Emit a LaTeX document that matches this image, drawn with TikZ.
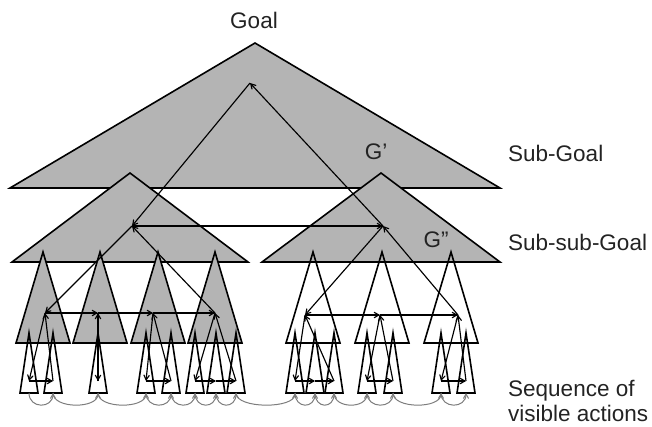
\documentclass[tikz,border=0pt]{standalone}
\usepackage{fontspec}
\setmainfont{Liberation Sans}
\usepackage{xcolor}
\usetikzlibrary{arrows,positioning}

\definecolor{tgray}{RGB}{180,180,180}
\definecolor{seqgray}{RGB}{125,125,125}
\definecolor{txtgray}{RGB}{35,35,35}

\tikzset{
    tri/.style={draw, line width=1.6pt, line join=miter, fill=tgray},
    openTri/.style={draw, line width=1.6pt, line join=miter},
    flow/.style={-angle 60, line width=1.15pt},
    seqarc/.style={-angle 60, line width=1pt, seqgray},
    lbl/.style={inner sep=0pt, text=txtgray, font=\fontsize{22.5}{25}\selectfont}
}

\begin{document}
\begin{tikzpicture}[x=1pt, y=-1pt]
    \useasboundingbox (0,0) rectangle (652,426);

    % goal and sub-goals
    \draw[tri] (10,188) -- (255,43) -- (500,188) -- cycle;
    \draw[tri] (12,262) -- (130,173) -- (248,262) -- cycle;
    \draw[tri] (262,262) -- (381,173) -- (500,262) -- cycle;

    % sub-sub-goals
    \foreach \x in {43,100,158,215}
        \draw[tri] (\x-27,343) -- (\x,252) -- (\x+27,343) -- cycle;
    \foreach \x in {313,382,451}
        \draw[openTri] (\x-27,343) -- (\x,252) -- (\x+27,343) -- cycle;

    % visible actions
    \foreach \n/\x in {a1/29, a2/53, b1/98, c1/146, c2/171, d1/195, d2/216, d3/236,
                       e1/295, e2/315, e3/334, f1/367, f2/393, g1/441, g2/466} {
        \draw[openTri] (\x-9,393) -- (\x,333) -- (\x+9,393) -- cycle;
        \coordinate (\n) at (\x,381);
        \coordinate (\n b) at (\x,393);
    }

    \coordinate (top) at (250,83);
    \coordinate (subA) at (132,226);
    \coordinate (subB) at (383,226);
    \coordinate (L1) at (45,313);
    \coordinate (L2) at (98,313);
    \coordinate (L3) at (153,313);
    \coordinate (L4) at (215,313);
    \coordinate (R1) at (305,315);
    \coordinate (R2) at (380,315);
    \coordinate (R3) at (458,315);

    % trace through the hierarchy
    \draw[flow] (top) -- (subA);
    \draw[flow] (subA) -- (subB);
    \draw[flow] (subB) -- (top);

    \draw[flow] (subA) -- (L1);
    \draw[flow] (L1) -- (L2);
    \draw[flow] (L2) -- (L3);
    \draw[flow] (L3) -- (L4);
    \draw[flow] (L4) -- (subA);

    \draw[flow] (subB) -- (R1);
    \draw[flow] (R1) -- (R2);
    \draw[flow] (R2) -- (R3);
    \draw[flow] (R3) -- (subB);

    \draw[flow] (L1) -- (a1);
    \draw[flow] (a1) -- (a2);
    \draw[flow] (a2) -- (L1);
    \draw[flow] (L2) -- (b1);
    \draw[flow] (b1) -- (L2);
    \draw[flow] (L3) -- (c1);
    \draw[flow] (c1) -- (c2);
    \draw[flow] (c2) -- (L3);
    \draw[flow] (L4) -- (d1);
    \draw[flow] (d1) -- (d2);
    \draw[flow] (d2) -- (d3);
    \draw[flow] (d3) -- (L4);

    \draw[flow] (R1) -- (e1);
    \draw[flow] (e1) -- (e2);
    \draw[flow] (e2) -- (e3);
    \draw[flow] (e3) -- (R1);
    \draw[flow] (R2) -- (f1);
    \draw[flow] (f1) -- (f2);
    \draw[flow] (f2) -- (R2);
    \draw[flow] (R3) -- (g1);
    \draw[flow] (g1) -- (g2);
    \draw[flow] (g2) -- (R3);

    % sequence of visible actions
    \foreach \p/\q in {a1/a2, a2/b1, b1/c1, c1/c2, c2/d1, d1/d2, d2/d3, d3/e1,
                       e1/e2, e2/e3, e3/f1, f1/f2, f2/g1, g1/g2}
        \draw[seqarc] (\p b) .. controls +(0,16) and +(0,16) .. (\q b);

    % labels
    \node[lbl] (goal) at (254,20) {Goal};
    \node[lbl] (gOne) at (376,152) {G’};
    \node[lbl] (gTwo) at (436,240) {G”};
    \node[lbl, anchor=west] (subgoal) at (508,153) {Sub-Goal};
    \node[lbl, anchor=west] (subsub) at (508,242) {Sub-sub-Goal};
    \node[lbl, anchor=west, align=left] (seq) at (508,401) {Sequence of\\visible actions};
\end{tikzpicture}
\end{document}
